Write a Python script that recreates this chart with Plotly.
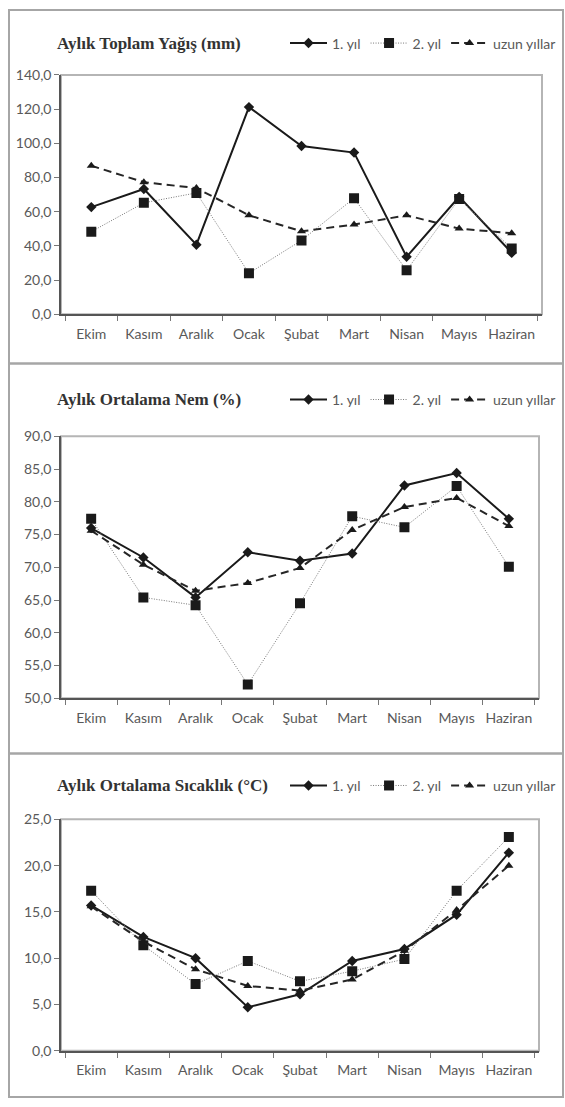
import plotly.graph_objects as go

W, H = 565, 1107

months = ["Ekim", "Kasım", "Aralık", "Ocak", "Şubat", "Mart", "Nisan", "Mayıs", "Haziran"]
series_names = ["1. yıl", "2. yıl", "uzun yıllar"]

# Aylık Toplam Yağış (mm)
rain_y1 = [62.7, 73.3, 40.7, 121.2, 98.4, 94.6, 33.6, 68.7, 35.9]
rain_y2 = [48.3, 65.2, 71.0, 24.0, 43.2, 67.9, 25.7, 67.5, 38.4]
rain_lt = [86.9, 77.3, 73.8, 57.9, 48.5, 52.5, 57.9, 50.1, 47.4]

# Aylık Ortalama Nem (%)
hum_y1 = [76.0, 71.5, 65.4, 72.3, 71.0, 72.1, 82.5, 84.4, 77.4]
hum_y2 = [77.4, 65.4, 64.2, 52.1, 64.5, 77.8, 76.1, 82.4, 70.1]
hum_lt = [75.6, 70.4, 66.4, 67.6, 69.9, 75.7, 79.2, 80.6, 76.3]

# Aylık Ortalama Sıcaklık (°C)
temp_y1 = [15.7, 12.3, 10.0, 4.7, 6.1, 9.7, 11.0, 14.7, 21.4]
temp_y2 = [17.3, 11.4, 7.2, 9.7, 7.5, 8.6, 9.9, 17.3, 23.1]
temp_lt = [15.6, 11.8, 8.8, 7.0, 6.5, 7.7, 10.8, 15.2, 20.0]

titles = ["Aylık Toplam Yağış (mm)", "Aylık Ortalama Nem (%)", "Aylık Ortalama Sıcaklık (°C)"]
panels_data = [(rain_y1, rain_y2, rain_lt), (hum_y1, hum_y2, hum_lt), (temp_y1, temp_y2, temp_lt)]
y_ranges = [(0, 140, 20), (50, 90, 5), (0, 25, 5)]

# layout geometry in pixels
panel_boxes = [(1, 360), (360, 756), (756, 1105)]
plot_boxes = [(61, 542, 67, 310), (61, 539, 434, 700), (61, 539, 823, 1058)]
title_y = [35, 397, 789]

def px(x):
    return x / W

def py(y):
    return 1 - y / H

TEXT = "#595959"
styles = [
    dict(line=dict(color="#1a1a1a", width=2, dash="solid"),
         marker=dict(symbol="diamond", size=8, color="#1a1a1a")),
    dict(line=dict(color="#777777", width=1, dash="1px,1.5px"),
         marker=dict(symbol="square", size=10, color="#1a1a1a")),
    dict(line=dict(color="#262626", width=2, dash="8px,5px"),
         marker=dict(symbol="triangle-up", size=8, color="#1a1a1a")),
]

fig = go.Figure()
layout = dict(
    width=W, height=H, margin=dict(l=0, r=0, t=0, b=0),
    paper_bgcolor="white", plot_bgcolor="white",
    separators=",.", showlegend=True,
    font=dict(family="Lato", size=14, color=TEXT),
)
shapes = []
annotations = []

for i in range(3):
    sfx = "" if i == 0 else str(i + 1)
    xa, ya = "x" + sfx, "y" + sfx
    leg = "legend" + sfx
    for j, vals in enumerate(panels_data[i]):
        fig.add_trace(go.Scatter(
            x=months, y=vals, name=series_names[j], mode="lines+markers",
            xaxis=xa, yaxis=ya, legend=leg, **styles[j]))
    x0, x1, y0, y1 = plot_boxes[i]
    lo, hi, dt = y_ranges[i]
    layout["xaxis" + sfx] = dict(
        domain=[px(x0), px(x1)], anchor=ya, type="category",
        showgrid=False, showline=True, linecolor="#555555", linewidth=1.5,
        ticks="outside", tickson="boundaries", ticklen=5, tickcolor="#777777",
        tickangle=0, ticklabelstandoff=6,
        tickfont=dict(family="Lato", size=14, color=TEXT), zeroline=False,
        fixedrange=True)
    layout["yaxis" + sfx] = dict(
        domain=[py(y1), py(y0)], anchor=xa, range=[lo, hi], dtick=dt,
        tickformat=".1f", showgrid=False, showline=True, linecolor="#555555",
        linewidth=1.5, ticks="outside", ticklen=5, tickcolor="#777777",
        tickfont=dict(family="Lato", size=14, color=TEXT), zeroline=False,
        fixedrange=True)
    # light border of plot area (top/right)
    shapes.append(dict(type="rect", xref=xa + " domain", yref=ya + " domain",
                       x0=0, x1=1, y0=0, y1=1, layer="below",
                       line=dict(color="#b5b5b5", width=2)))
    # panel border
    t, b = panel_boxes[i]
    shapes.append(dict(type="rect", xref="paper", yref="paper",
                       x0=px(9), x1=px(563), y0=py(b), y1=py(t),
                       line=dict(color="#a6a6a6", width=2)))
    annotations.append(dict(text="<b>" + titles[i] + "</b>", xref="paper", yref="paper",
                            x=px(55), y=py(title_y[i]), xanchor="left", yanchor="middle",
                            showarrow=False,
                            font=dict(family="Liberation Serif", size=17, color="#333333")))
    layout[leg] = dict(orientation="h", xref="paper", yref="paper",
                       x=px(561), y=py(title_y[i]), xanchor="right", yanchor="middle",
                       font=dict(family="Lato", size=14, color=TEXT),
                       bgcolor="rgba(0,0,0,0)", itemwidth=37, tracegroupgap=0,
                       itemclick=False, itemdoubleclick=False)

layout["shapes"] = shapes
layout["annotations"] = annotations
fig.update_layout(**layout)
fig.write_html("out.html", config={"displayModeBar": False},
               post_script="document.body.style.margin='0';document.body.style.padding='0';")
